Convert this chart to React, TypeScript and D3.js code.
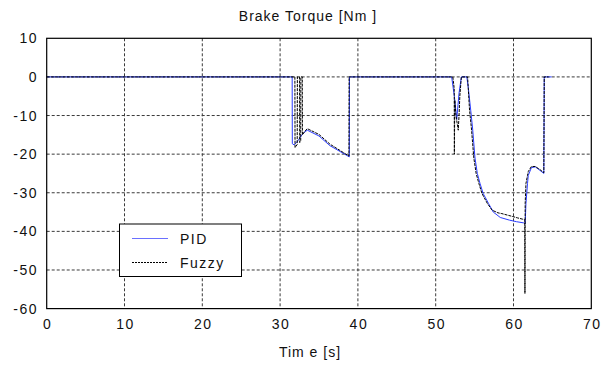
import React from "react";
import * as d3 from "d3";

const title = "Brake Torque [Nm ]";
const xLabel = "Tim e [s]";
const xTicks = [0, 10, 20, 30, 40, 50, 60, 70];
const yTicks = [10, 0, -10, -20, -30, -40, -50, -60];
const seriesNames = ["PID", "Fuzzy"];

const pidT = [0, 31.55, 31.57, 31.8, 32.3, 32.8, 33.2, 33.5, 35, 36.4, 38.9, 38.92, 52.05, 52.4, 52.7, 53.0, 53.3, 54.0, 54.2, 54.5, 54.75, 55.05, 55.35, 55.7, 56.1, 56.8, 57.4, 58.3, 59.5, 60.4, 61.3, 61.5, 61.6, 61.8, 61.9, 62.3, 62.8, 63.4, 63.9, 63.95, 64.9];
const pidV = [0, 0, -17.3, -17.6, -16.5, -15, -14.2, -13.8, -15.3, -17.8, -20.7, 0, 0, -5, -11, -4.2, 0, 0, -3, -8.6, -13.5, -21, -25, -27.6, -30.2, -32.8, -35, -36.4, -37.1, -37.5, -37.8, -38, -32.8, -27.6, -25.5, -23.5, -23.3, -24.2, -25, 0, 0];

const fuzT = [0, 31.9, 31.92, 32.2, 32.22, 32.5, 32.52, 32.65, 32.67, 32.85, 32.87, 33.2, 33.5, 35, 36.4, 38.85, 38.87, 52.2, 52.38, 52.4, 52.45, 52.6, 52.9, 53.0, 53.1, 53.3, 54.1, 54.35, 54.6, 54.9, 55.2, 55.55, 55.95, 56.65, 57.25, 58.0, 58.5, 59.8, 60.5, 61.3, 61.45, 61.47, 61.5, 61.6, 61.8, 61.9, 62.3, 62.8, 63.4, 63.9, 63.95, 64.5];
const fuzV = [0, 0, -18.3, -17.5, 0, 0, -17, -16.5, 0, 0, -15, -14, -13.4, -14.9, -17.4, -20.5, 0, 0, -3, -20, -6, -10, -13.8, -10, -5, 0, 0, -8.6, -13.5, -21, -25, -27.6, -30.2, -32.8, -34.5, -35.2, -35.4, -36.1, -36.5, -36.9, -37, -56.1, -32.8, -27.6, -25.5, -24.5, -23.2, -23.2, -24.0, -24.8, 0, 0];

const W = 615;
const H = 365;
const x = d3.scaleLinear().domain([0, 70]).range([46.7, 591.3]);
const y = d3.scaleLinear().domain([-60, 10]).range([308.6, 38.3]);

const font = "'Liberation Sans', Arial, sans-serif";

export default function App() {
  const line = d3
    .line<[number, number]>()
    .x((d) => x(d[0]))
    .y((d) => y(d[1]));
  const pid = line(pidT.map((t, i) => [t, pidV[i]]) as [number, number][]) || "";
  const fuz = line(fuzT.map((t, i) => [t, fuzV[i]]) as [number, number][]) || "";
  const [x0, x1] = x.range();
  const [yb, yt] = y.range();

  return (
    <svg
      width={W}
      height={H}
      style={{ position: "absolute", left: 0, top: 0, background: "#fff" }}
      fontFamily={font}
    >
      <rect x={0} y={0} width={W} height={H} fill="#fff" />
      {/* grid */}
      {xTicks.slice(1, -1).map((t) => (
        <line key={"gx" + t} x1={x(t)} x2={x(t)} y1={yt} y2={yb} stroke="#3a3a3a" strokeWidth={1} strokeDasharray="3,2" />
      ))}
      {yTicks.slice(1, -1).map((t) => (
        <line key={"gy" + t} x1={x0} x2={x1} y1={y(t)} y2={y(t)} stroke="#3a3a3a" strokeWidth={1} strokeDasharray="3,2" />
      ))}
      {/* data */}
      <path d={pid} fill="none" stroke="#2a3cff" strokeWidth={1} />
      <path d={fuz} fill="none" stroke="#000" strokeWidth={1} strokeDasharray="3,1" />
      {/* axes box */}
      <rect x={x0} y={yt} width={x1 - x0} height={yb - yt} fill="none" stroke="#000" strokeWidth={1.2} />
      {/* tick labels */}
      {yTicks.map((t) => (
        <text key={"ty" + t} x={38} y={y(t) + 5} textAnchor="end" fontSize={14} letterSpacing={1.5} fill="#111">
          {t}
        </text>
      ))}
      {xTicks.map((t) => (
        <text key={"tx" + t} x={x(t) + 1} y={329} textAnchor="middle" fontSize={14} letterSpacing={1.5} fill="#111">
          {t}
        </text>
      ))}
      <text x={308} y={21} textAnchor="middle" fontSize={14} letterSpacing={1} fill="#111">
        {title}
      </text>
      <text x={310} y={357} textAnchor="middle" fontSize={14} letterSpacing={1} fill="#111">
        {xLabel}
      </text>
      {/* legend */}
      <rect x={119.5} y={224} width={122} height={52.5} fill="#fff" stroke="#000" strokeWidth={1} />
      <line x1={132} x2={168} y1={238.5} y2={238.5} stroke="#6a70ff" strokeWidth={1} />
      <line x1={132} x2={168} y1={262.5} y2={262.5} stroke="#000" strokeWidth={1} strokeDasharray="2,1" />
      <text x={180} y={243.5} fontSize={14} letterSpacing={1.5} fill="#111">
        {seriesNames[0]}
      </text>
      <text x={180} y={267.5} fontSize={14} letterSpacing={1.5} fill="#111">
        {seriesNames[1]}
      </text>
    </svg>
  );
}
